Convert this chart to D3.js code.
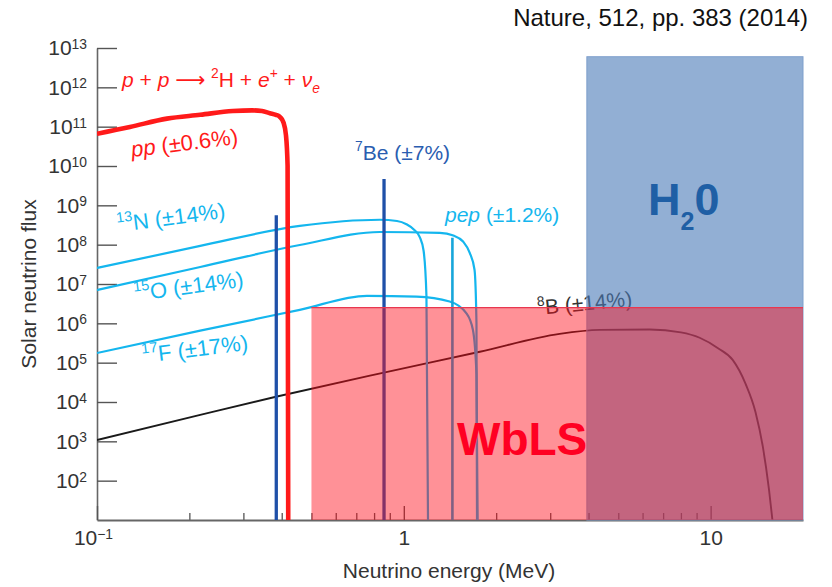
<!DOCTYPE html>
<html><head><meta charset="utf-8">
<script src="https://cdn.jsdelivr.net/npm/d3@7"></script>
<style>body{margin:0;background:#fff}svg{display:block;font-family:"Liberation Sans",Arial,Helvetica,sans-serif}</style>
</head><body><svg id="c" width="832" height="587"></svg>
<script>
// ---- data (energy in MeV, flux) ----
const ppE  = [0.1, 0.128, 0.169, 0.217, 0.277, 0.32, 0.345, 0.366, 0.383, 0.395, 0.405, 0.413, 0.418, 0.42];
const ppF  = [6.6e10, 9.8e10, 1.6e11, 2.0e11, 2.5e11, 2.6e11, 2.5e11, 2.2e11, 2.0e11, 1.75e11, 1.3e11, 6e10, 1e10, 10];
const n13E = [0.1, 0.217, 0.458, 0.835, 0.95, 1.02, 1.08, 1.127, 1.16, 1.185, 1.199];
const n13F = [2.55e7, 9.3e7, 3.0e8, 4.3e8, 4.0e8, 3.3e8, 2.4e8, 1.56e8, 7e7, 5e6, 10];
const o15E = [0.1, 0.217, 0.458, 0.835, 1.31, 1.45, 1.56, 1.64, 1.70, 1.725, 1.732];
const o15F = [7.0e6, 2.7e7, 9.8e7, 2.1e8, 2.0e8, 1.7e8, 1.2e8, 6.2e7, 2.3e7, 1e6, 10];
const f17E = [0.1, 0.217, 0.458, 0.758, 1.10, 1.41, 1.60, 1.68, 1.725, 1.74];
const f17F = [1.76e5, 6.5e5, 2.2e6, 5.0e6, 4.8e6, 3.6e6, 1.8e6, 6.8e5, 5e4, 10];
const b8E  = [0.1, 0.217, 0.383, 0.861, 1.77, 3.22, 4.35, 6.33, 8.0, 9.21, 10.6, 11.8, 13.0, 14.0, 14.8, 15.5, 15.9];
const b8F  = [1.08e3, 4.7e3, 1.36e4, 5.6e4, 1.9e5, 5.4e5, 6.8e5, 7.0e5, 5.9e5, 4.3e5, 2.3e5, 1.18e5, 2.9e4, 5.6e3, 7.2e2, 58, 10];
const be7E = [0.384, 0.862];
const be7F = [5.6e8, 4.7e9];
const pepE = [1.44];
const pepF = [1.5e8];
const wblsBox = [0.5, 20, 10, 2.5e6];   // Emin, Emax, Fmin, Fmax
const h2oBox  = [3.95, 20, 10, 6e12];
const yTickExp = [2,3,4,5,6,7,8,9,10,11,12,13];
const xTickVals = [0.1, 1, 10];
const xTickLabels = [["10","\u22121"],["1",""],["10",""]];

// ---- scales ----
const x = d3.scaleLog().domain([0.1, 20]).range([97, 803]);
const y = d3.scaleLog().domain([10, 1e13]).range([520, 48]);
const svg = d3.select("#c");

const RED = "#ff1a1a", CYAN = "#14b6ee", BLUE = "#1f50a8", PEP = "#17a6da";

svg.append("defs").append("clipPath").attr("id","clip")
  .append("rect").attr("x",97).attr("y",40).attr("width",706).attr("height",480);

// ---- axes ----
const yMinor = y.ticks().filter(v => Math.abs(Math.log10(v) - Math.round(Math.log10(v))) > 1e-6);
svg.append("g").attr("transform","translate(97,0)")
  .call(d3.axisLeft(y).tickValues(yMinor).tickSizeInner(-11).tickSizeOuter(0).tickFormat(""))
  .call(g => { g.select(".domain").remove(); g.selectAll("line").attr("stroke","#555").attr("stroke-width",1); });
const yAx = svg.append("g").attr("transform","translate(97,0)")
  .call(d3.axisLeft(y).tickValues(yTickExp.map(e => Math.pow(10,e))).tickSizeInner(-20).tickSizeOuter(0).tickPadding(10));
yAx.select(".domain").attr("stroke","#666").attr("stroke-width",1.6);
yAx.selectAll(".tick line").attr("stroke","#555").attr("stroke-width",1.4);
yAx.selectAll(".tick text").each(function(d,i){
  const t = d3.select(this).text(null).attr("font-size",21).attr("fill","#333").attr("font-family","Liberation Sans, Arial, sans-serif");
  t.append("tspan").text("10");
  t.append("tspan").attr("dy","-0.45em").attr("font-size","0.66em").text(yTickExp[i]);
});

const xMinor = x.ticks().filter(v => Math.abs(Math.log10(v) - Math.round(Math.log10(v))) > 1e-6 && v < 19);
svg.append("g").attr("transform","translate(0,520)")
  .call(d3.axisBottom(x).tickValues(xMinor).tickSizeInner(-7).tickSizeOuter(0).tickFormat(""))
  .call(g => { g.select(".domain").remove(); g.selectAll("line").attr("stroke","#555").attr("stroke-width",1.3); });
const xAx = svg.append("g").attr("transform","translate(0,520)")
  .call(d3.axisBottom(x).tickValues(xTickVals).tickSizeInner(-14).tickSizeOuter(0).tickPadding(10));
xAx.select(".domain").attr("stroke","#666").attr("stroke-width",1.8);
xAx.selectAll(".tick line").attr("stroke","#555").attr("stroke-width",1.4);
xAx.selectAll(".tick text").each(function(d,i){
  const t = d3.select(this).text(null).attr("font-size",21).attr("fill","#333").attr("font-family","Liberation Sans, Arial, sans-serif");
  if (xTickLabels[i][1]) t.attr("dx",-4);
  t.append("tspan").text(xTickLabels[i][0]);
  if (xTickLabels[i][1]) t.append("tspan").attr("dy","-0.45em").attr("font-size","0.66em").text(xTickLabels[i][1]);
});

svg.append("text").attr("x",449).attr("y",578).attr("text-anchor","middle")
  .attr("font-size",21).attr("fill","#333").text("Neutrino energy (MeV)");
svg.append("text").attr("transform","translate(36,284) rotate(-90)").attr("text-anchor","middle")
  .attr("font-size",21).attr("fill","#333").text("Solar neutrino flux");

// ---- curves ----
const line = d3.line().x(d => x(d[0])).y(d => y(d[1])).curve(d3.curveMonotoneX);
const plot = svg.append("g").attr("clip-path","url(#clip)");
function curve(E, F, color, w){
  plot.append("path").datum(d3.zip(E, F)).attr("d", line)
    .attr("fill","none").attr("stroke",color).attr("stroke-width",w).attr("stroke-linejoin","round");
}
curve(b8E, b8F, "#1a1a1a", 1.9);
curve(f17E, f17F, CYAN, 2.2);
curve(o15E, o15F, CYAN, 2.2);
curve(n13E, n13F, CYAN, 2.2);
plot.selectAll(".be7").data(d3.zip(be7E, be7F)).join("line")
  .attr("x1", d => x(d[0])).attr("x2", d => x(d[0])).attr("y1", d => y(d[1])).attr("y2", y(10))
  .attr("stroke", BLUE).attr("stroke-width", 3.3);
plot.selectAll(".pep").data(d3.zip(pepE, pepF)).join("line")
  .attr("x1", d => x(d[0])).attr("x2", d => x(d[0])).attr("y1", d => y(d[1])).attr("y2", y(10))
  .attr("stroke", PEP).attr("stroke-width", 2.6);
curve(ppE, ppF, RED, 4.6);

// ---- rich text helper ----
function rich(g, parts, fs){
  let off = 0;
  parts.forEach(p => {
    const target = p.sup ? -0.42*fs : p.sub ? 0.28*fs : 0;
    const ts = g.append("tspan").text(p.t).attr("dy", target - off);
    if (p.sup || p.sub) ts.attr("font-size", fs*0.66);
    if (p.it) ts.attr("font-style","italic");
    if (p.arrow) ts.attr("font-family","DejaVu Sans").attr("font-weight","normal");
    off = target;
  });
}
function label(tr, parts, color, fs){
  const t = svg.append("text").attr("transform", tr).attr("font-size", fs).attr("fill", color);
  rich(t, parts, fs);
  return t;
}

label("translate(538,315) rotate(-5.5)", [{t:"8",sup:1},{t:"B (\u00b114%)"}], "#333", 21);

// ---- detector boxes ----
svg.append("rect").attr("x", x(h2oBox[0])).attr("y", y(h2oBox[3]))
  .attr("width", x(h2oBox[1]) - x(h2oBox[0])).attr("height", y(h2oBox[2]) - y(h2oBox[3]))
  .attr("fill","#4a7ab8").attr("fill-opacity",0.6).attr("stroke","#7e9fcc").attr("stroke-width",1);
svg.append("rect").attr("x", x(wblsBox[0])).attr("y", y(wblsBox[3]))
  .attr("width", x(wblsBox[1]) - x(wblsBox[0])).attr("height", y(wblsBox[2]) - y(wblsBox[3]))
  .attr("fill","#ff0a18").attr("fill-opacity",0.45);
svg.append("line").attr("x1", x(wblsBox[0])).attr("x2", x(wblsBox[1]))
  .attr("y1", y(wblsBox[3])).attr("y2", y(wblsBox[3])).attr("stroke","#e8374f").attr("stroke-width",1.2);

// ---- labels ----
label("translate(122,87)", [{t:"p",it:1},{t:" + "},{t:"p",it:1},{t:" "},{t:"\u27f6",arrow:1},{t:" "},{t:"2",sup:1},{t:"H + "},{t:"e",it:1},{t:"+",sup:1},{t:" + "},{t:"\u03bd",it:1},{t:"e",sub:1,it:1}], RED, 21);
label("translate(132,157) rotate(-7)", [{t:"pp",it:1},{t:" (\u00b10.6%)"}], RED, 22);
label("translate(118,232) rotate(-7.5)", [{t:"13",sup:1},{t:"N (\u00b114%)"}], CYAN, 22);
label("translate(135,301) rotate(-7.5)", [{t:"15",sup:1},{t:"O (\u00b114%)"}], CYAN, 22);
label("translate(143,363) rotate(-7)", [{t:"17",sup:1},{t:"F (\u00b117%)"}], CYAN, 22);
label("translate(355,160)", [{t:"7",sup:1},{t:"Be (\u00b17%)"}], "#2a5db0", 21);
label("translate(445,222)", [{t:"pep",it:1},{t:" (\u00b11.2%)"}], CYAN, 21);

svg.append("text").attr("x",457).attr("y",455).attr("font-size",46).attr("font-weight","bold")
  .attr("fill","#ff0022").text("WbLS");
const h = svg.append("text").attr("x",648).attr("y",215).attr("font-size",45).attr("font-weight","bold").attr("fill","#1f5fa5");
h.append("tspan").text("H");
h.append("tspan").attr("dy",15).attr("font-size",25).text("2");
h.append("tspan").attr("dy",-15).text("0");

svg.append("text").attr("x",808).attr("y",26).attr("text-anchor","end").attr("font-size",24)
  .attr("fill","#111").text("Nature, 512, pp. 383 (2014)");
</script></body></html>
